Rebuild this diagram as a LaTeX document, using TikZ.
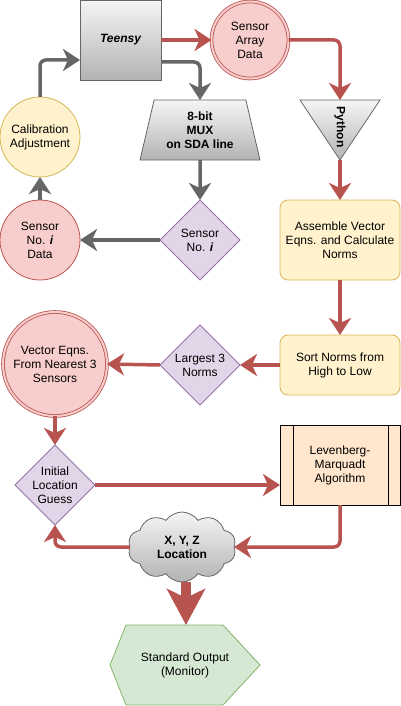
\documentclass[tikz,border=0pt]{standalone}
\usepackage{fontspec}
\setmainfont{Liberation Sans}
\usepackage{tikz}
\usetikzlibrary{shapes.geometric,shapes.symbols}
\usetikzlibrary{arrows.meta}
\usepackage{xcolor}

\definecolor{redline}{HTML}{B85450}
\definecolor{redfill}{HTML}{F8CECC}
\definecolor{yelline}{HTML}{D6B656}
\definecolor{yelfill}{HTML}{FFF2CC}
\definecolor{purline}{HTML}{9673A6}
\definecolor{purfill}{HTML}{E1D5E7}
\definecolor{grnline}{HTML}{82B366}
\definecolor{grnfill}{HTML}{D5E8D4}
\definecolor{orgfill}{HTML}{FFE6CC}
\definecolor{grayline}{HTML}{666666}
\definecolor{graytop}{HTML}{F5F5F5}
\definecolor{graybot}{HTML}{B3B3B3}

\newcommand{\dfont}{\fontsize{12}{14}\selectfont}

\tikzset{
	every node/.style={font=\dfont, align=center, inner sep=0pt, outer sep=0pt},
	grayshade/.style={draw=grayline, line width=0.8pt, top color=graytop, bottom color=graybot},
	redcirc/.style={circle, draw=redline, fill=redfill, line width=0.8pt},
	dblcirc/.style={redcirc, double=redfill, double distance=2pt},
	yelcirc/.style={circle, draw=yelline, fill=yelfill, line width=0.8pt, minimum size=80pt},
	yelbox/.style={rectangle, rounded corners=8pt, draw=yelline, fill=yelfill, line width=0.8pt, minimum width=120pt},
	decision/.style={diamond, aspect=1, draw=purline, fill=purfill, line width=0.8pt, minimum width=80pt, minimum height=80pt, inner sep=-4pt},
	redarrow/.style={draw=redline, line width=3.5pt, rounded corners=6pt, -{Stealth[length=17pt,width=22pt,inset=5pt]}},
	grayarrow/.style={draw=grayline, line width=3.5pt, rounded corners=6pt, -{Stealth[length=17pt,width=22pt,inset=5pt]}},
	bigarrow/.style={draw=redline, line width=10pt, -{Stealth[length=36pt,width=38pt,inset=9pt]}}
}

\begin{document}
\begin{tikzpicture}[x=1pt,y=-1pt]
	\useasboundingbox (0,0) rectangle (401,706);
	
	\node[grayshade, minimum width=81pt, minimum height=80pt, font=\dfont\bfseries\itshape] (teensy) at (120.5,40) {Teensy};
	
	\node[dblcirc, minimum size=77pt] (sa) at (250,40) {Sensor\\Array\\Data};
	
	\node[grayshade, trapezium, trapezium left angle=69, trapezium right angle=69, trapezium stretches body, minimum width=120pt, minimum height=60pt, font=\dfont\bfseries] (mux) at (200,130) {8-bit\\MUX\\on SDA line};
	
	\draw[grayshade] (300,100) -- (380,100) -- (340,160) -- cycle;
	\node[font=\dfont\bfseries, rotate=-90] (py) at (340,127) {Python};
	\coordinate (pytop) at (340,100);
	\coordinate (pybot) at (340,160);
	
	\node[yelcirc] (calib) at (40,137) {Calibration\\Adjustment};
	
	\node[redcirc, minimum size=80pt] (snd) at (40,240) {Sensor\\No. \textbf{\textit{i}}\\Data};
	
	\node[decision] (sni) at (200,240) {Sensor\\No. \textbf{\textit{i}}};
	
	\node[yelbox, minimum height=80pt] (asm) at (340,240) {Assemble Vector\\Eqns. and Calculate\\Norms};
	
	\node[yelbox, minimum height=60pt] (sort) at (340,365) {Sort Norms from\\High to Low};
	
	\node[decision] (lg) at (200,365) {Largest 3\\Norms};
	
	\node[dblcirc, minimum size=104pt] (veq) at (55,364) {Vector Eqns.\\From Nearest 3\\Sensors};
	
	\node[decision] (ilg) at (55,485) {Initial\\Location\\Guess};
	
	\node[draw, line width=0.8pt, fill=orgfill, minimum width=120pt, minimum height=80pt] (lm) at (340,465) {Levenberg-\\Marquadt\\Algorithm};
	\draw[line width=0.8pt] (lm.north west) ++(13,0) -- ++(0,80);
	\draw[line width=0.8pt] (lm.north east) ++(-12,0) -- ++(0,80);
	
	\node[grayshade, cloud, cloud puffs=10, cloud puff arc=110, cloud ignores aspect, minimum width=108pt, minimum height=70pt, font=\dfont\bfseries] (xyz) at (182,547) {X, Y, Z\\Location};
	
	\draw[draw=grnline, fill=grnfill, line width=0.8pt] (110,665) -- (126,625) -- (223,625) -- (260,665) -- (223,705) -- (126,705) -- cycle;
	\node (out) at (185,665) {Standard Output\\(Monitor)};
	\coordinate (outtop) at (186,625);
	
	\coordinate (tin) at (80,60);
	\coordinate (tout) at (161,62);
	
	\draw[redarrow] (teensy.east) -- (sa.west);
	\draw[grayarrow] (tout) -| (mux.north);
	\draw[grayarrow] (calib.north) |- (tin);
	\draw[redarrow] (sa.east) -| (pytop);
	\draw[redarrow] (pybot) -- (asm.north);
	\draw[grayarrow] (mux.south) -- (sni.north);
	\draw[grayarrow] (sni.west) -- (snd.east);
	\draw[grayarrow] (snd.north) -- (calib.south);
	\draw[redarrow] (asm.south) -- (sort.north);
	\draw[redarrow] (sort.west) -- (lg.east);
	\draw[redarrow] (lg.west) -- (veq.east);
	\draw[redarrow] (veq.south) -- (ilg.north);
	\draw[redarrow] (ilg.east) -- (ilg.east -| lm.west);
	\draw[redarrow] (lm.south) |- (xyz.east);
	\draw[redarrow] (xyz.west) -| (ilg.south);
	\draw[bigarrow] (xyz.south -| outtop) -- (outtop);
\end{tikzpicture}
\end{document}
